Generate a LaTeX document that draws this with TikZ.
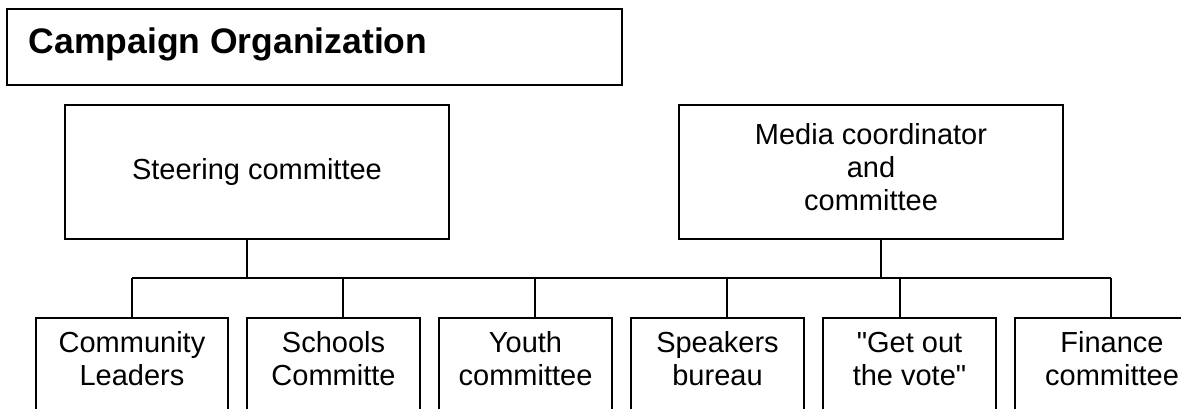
\documentclass[tikz,border=0pt]{standalone}
\usepackage{fontspec}
\setmainfont{Liberation Sans}[Ligatures=TeXOff]
\begin{document}
\begin{tikzpicture}[x=1pt,y=-1pt,
  line width=1.8pt,
  txt/.style={font=\fontsize{29}{33}\selectfont},
  topbox/.style={draw, txt, align=center, inner sep=0pt, minimum height=134, minimum width=384},
  leaf/.style={draw, txt, anchor=north, align=center, inner xsep=0pt, inner ysep=14,
    text height=54, text depth=55},
  conn/.style={line width=1.8pt}]
\useasboundingbox (0,0) rectangle (1181,409);
\clip (0,0) rectangle (1181,409);
\fill[white] (0,0) rectangle (1181,409);
% title
\node[draw, minimum width=615, minimum height=76, inner sep=0pt] (title) at (314.5,47) {};
\node[anchor=base west, inner sep=0pt, font=\fontsize{35.5}{40}\selectfont\bfseries] (titletext) at (28,54) {Campaign Organization};
% top boxes
\node[topbox] (steer) at (257,172) {Steering committee};
\node[topbox, text depth=11] (media) at (871,172) {Media coordinator\\and\\committee};
% leaves
\node[leaf, minimum width=192] (comm) at (132,317) {Community\\Leaders};
\node[leaf, minimum width=173] (sch) at (333.5,317) {Schools\\Committe};
\node[leaf, minimum width=173] (youth) at (525.5,317) {Youth\\committee};
\node[leaf, minimum width=173] (spk) at (717.5,317) {Speakers\\bureau};
\node[leaf, minimum width=173] (gotv) at (909.5,317) {"Get out\\the vote"};
\node[leaf, minimum width=194] (fin) at (1112,317) {Finance\\committee};
% bus
\coordinate (bus) at (0,278);
\draw[conn] (comm.north |- bus) -- ([xshift=-1]fin.north |- bus);
\draw[conn] ([xshift=-10]steer.south) -- ([xshift=-10]steer.south |- bus);
\draw[conn] ([xshift=10]media.south) -- ([xshift=10]media.south |- bus);
\draw[conn] (comm.north) -- (comm.north |- bus);
\draw[conn] ([xshift=9.5]sch.north) -- ([xshift=9.5]sch.north |- bus);
\draw[conn] ([xshift=9.5]youth.north) -- ([xshift=9.5]youth.north |- bus);
\draw[conn] ([xshift=9.5]spk.north) -- ([xshift=9.5]spk.north |- bus);
\draw[conn] ([xshift=-9.5]gotv.north) -- ([xshift=-9.5]gotv.north |- bus);
\draw[conn] ([xshift=-1]fin.north) -- ([xshift=-1]fin.north |- bus);
\end{tikzpicture}
\end{document}
